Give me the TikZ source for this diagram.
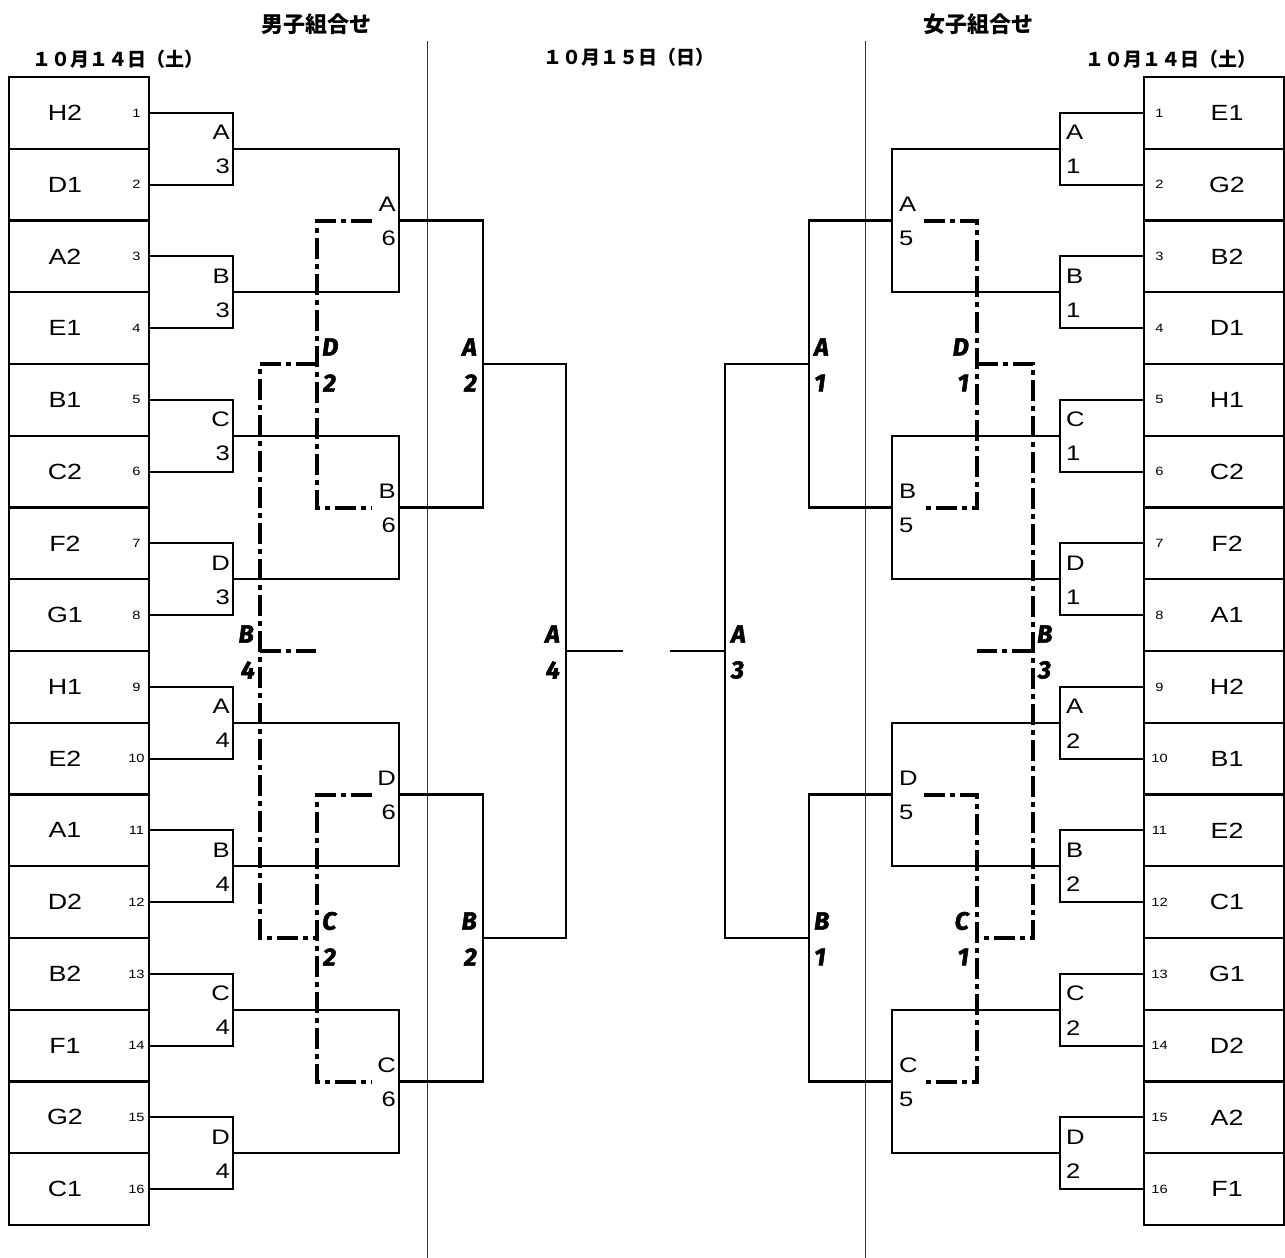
\documentclass[tikz,border=0pt]{standalone}
\usepackage{fontspec}
\setmainfont{Liberation Sans}[FakeStretch=1.22]
\newfontfamily\jpfont{Noto Sans CJK JP}
\newfontfamily\bifont{Fira Sans}[BoldItalicFeatures={FakeBold=2}]
\tikzset{
 teambox/.style={draw, line width=2.2pt, minimum width=140pt, minimum height=71.75pt, inner sep=0pt},
 tname/.style={font=\fontsize{22}{22}\selectfont, inner sep=0pt},
 seed/.style={font=\fontsize{12}{12}\selectfont, inner sep=0pt},
 rl/.style={font=\fontsize{21}{21}\selectfont, inner sep=0pt},
 bl/.style={font=\bifont\bfseries\itshape\fontsize{25}{25}\selectfont, inner sep=0pt},
 wire/.style={line width=2.2pt},
 dd/.style={line width=4pt, dash pattern=on 21pt off 5pt on 5pt off 5pt},
 sepline/.style={line width=1.1pt, black!80},
 hdr/.style={font=\jpfont\bfseries\fontsize{19}{19}\selectfont, inner sep=0pt},
 ttl/.style={font=\jpfont\bfseries\fontsize{22}{22}\selectfont, inner sep=0pt},
}
\begin{document}
\begin{tikzpicture}[x=1pt,y=-1pt]
\useasboundingbox (0,0) rectangle (1285,1258);
% headers
\node[ttl] (t1) at (316,24) {男子組合せ};
\node[ttl] (t2) at (978,24) {女子組合せ};
\node[hdr] (d1) at (118,59) {１０月１４日（土）};
\node[hdr] (d2) at (629,57) {１０月１５日（日）};
\node[hdr] (d3) at (1171,59) {１０月１４日（土）};
% separators
\coordinate (s1t) at (427.5,41); \coordinate (s1b) at (427.5,1258);
\coordinate (s2t) at (865.5,41); \coordinate (s2b) at (865.5,1258);
\draw[sepline] (s1t) -- (s1b);
\draw[sepline] (s2t) -- (s2b);
% teams
\foreach \n [count=\i] in {H2,D1,A2,E1,B1,C2,F2,G1,H1,E2,A1,D2,B2,F1,G2,C1} {
  \pgfmathsetmacro\yy{77+(\i-0.5)*71.75}
  \node[teambox] (m\i) at (79,\yy) {};
  \node[tname] (mn\i) at (65,\yy) {\n};
  \node[seed] (ms\i) at (136.5,\yy) {\i};
}
\foreach \n [count=\i] in {E1,G2,B2,D1,H1,C2,F2,A1,H2,B1,E2,C1,G1,D2,A2,F1} {
  \pgfmathsetmacro\yy{77+(\i-0.5)*71.75}
  \node[teambox] (w\i) at (1214,\yy) {};
  \node[tname] (wn\i) at (1227,\yy) {\n};
  \node[seed] (ws\i) at (1159.5,\yy) {\i};
}
% men round 1
\foreach \k/\L/\N in {1/A/3,2/B/3,3/C/3,4/D/3,5/A/4,6/B/4,7/C/4,8/D/4} {
  \pgfmathtruncatemacro\ia{2*\k-1}
  \pgfmathtruncatemacro\ib{2*\k}
  \pgfmathsetmacro\yy{77+(2*\k-1)*71.75}
  \coordinate (ma\k) at (233,\yy);
  \draw[wire] (m\ia.east) -| (ma\k) |- (m\ib.east);
  \node[rl,anchor=east] (mal\k) at ([shift={(-3,-16)}]ma\k) {\L};
  \node[rl,anchor=east] (man\k) at ([shift={(-3,18)}]ma\k) {\N};
}
% women round 1
\foreach \k/\L/\N in {1/A/1,2/B/1,3/C/1,4/D/1,5/A/2,6/B/2,7/C/2,8/D/2} {
  \pgfmathtruncatemacro\ia{2*\k-1}
  \pgfmathtruncatemacro\ib{2*\k}
  \pgfmathsetmacro\yy{77+(2*\k-1)*71.75}
  \coordinate (wa\k) at (1060,\yy);
  \draw[wire] (w\ia.west) -| (wa\k) |- (w\ib.west);
  \node[rl,anchor=west] (wal\k) at ([shift={(6,-16)}]wa\k) {\L};
  \node[rl,anchor=west] (wan\k) at ([shift={(6,18)}]wa\k) {\N};
}
% men round 2
\foreach \k/\L/\N in {1/A/6,2/B/6,3/D/6,4/C/6} {
  \pgfmathtruncatemacro\ia{2*\k-1}
  \pgfmathtruncatemacro\ib{2*\k}
  \pgfmathsetmacro\yy{77+(4*\k-2)*71.75}
  \coordinate (mb\k) at (399,\yy);
  \draw[wire] (ma\ia) -| (mb\k) |- (ma\ib);
  \node[rl,anchor=east] (mbl\k) at ([shift={(-3,-16)}]mb\k) {\L};
  \node[rl,anchor=east] (mbn\k) at ([shift={(-3,18)}]mb\k) {\N};
}
% women round 2
\foreach \k/\L/\N in {1/A/5,2/B/5,3/D/5,4/C/5} {
  \pgfmathtruncatemacro\ia{2*\k-1}
  \pgfmathtruncatemacro\ib{2*\k}
  \pgfmathsetmacro\yy{77+(4*\k-2)*71.75}
  \coordinate (wb\k) at (892,\yy);
  \draw[wire] (wa\ia) -| (wb\k) |- (wa\ib);
  \node[rl,anchor=west] (wbl\k) at ([shift={(7,-16)}]wb\k) {\L};
  \node[rl,anchor=west] (wbn\k) at ([shift={(7,18)}]wb\k) {\N};
}
% round 3
\coordinate (mc1) at (483,364); \coordinate (mc2) at (483,938);
\coordinate (wc1) at (809,364); \coordinate (wc2) at (809,938);
\draw[wire] (mb1) -| (mc1) |- (mb2);
\draw[wire] (mb3) -| (mc2) |- (mb4);
\draw[wire] (wb1) -| (wc1) |- (wb2);
\draw[wire] (wb3) -| (wc2) |- (wb4);
\node[bl,anchor=east] (mcl1) at ([shift={(-6,-17)}]mc1) {A};
\node[bl,anchor=east] (mcn1) at ([shift={(-6,19)}]mc1) {2};
\node[bl,anchor=east] (mcl2) at ([shift={(-6,-17)}]mc2) {B};
\node[bl,anchor=east] (mcn2) at ([shift={(-6,19)}]mc2) {2};
\node[bl,anchor=west] (wcl1) at ([shift={(5,-17)}]wc1) {A};
\node[bl,anchor=west] (wcn1) at ([shift={(5,19)}]wc1) {1};
\node[bl,anchor=west] (wcl2) at ([shift={(5,-17)}]wc2) {B};
\node[bl,anchor=west] (wcn2) at ([shift={(5,19)}]wc2) {1};
% finals
\coordinate (md) at (566,651); \coordinate (mend) at (623,651);
\coordinate (wd) at (725,651); \coordinate (wend) at (670,651);
\draw[wire] (mc1) -| (md) |- (mc2);
\draw[wire] (wc1) -| (wd) |- (wc2);
\draw[wire] (md) -- (mend);
\draw[wire] (wd) -- (wend);
\node[bl,anchor=east] (mdl) at ([shift={(-6,-17)}]md) {A};
\node[bl,anchor=east] (mdn) at ([shift={(-6,19)}]md) {4};
\node[bl,anchor=west] (wdl) at ([shift={(6,-17)}]wd) {A};
\node[bl,anchor=west] (wdn) at ([shift={(6,19)}]wd) {3};
% men consolation (dash-dot)
\coordinate (mxD) at (317,364); \coordinate (mxC) at (317,938);
\coordinate (mxB) at (260,651); \coordinate (mxE) at (316,651);
\draw[dd] ([xshift=-27pt]mb1) -| (mxD) |- ([xshift=-27pt]mb2);
\draw[dd] ([xshift=-27pt]mb3) -| (mxC) |- ([xshift=-27pt]mb4);
\draw[dd] (mxD) -| (mxB) |- (mxC);
\draw[dd] (mxB) -- (mxE);
\node[bl,anchor=west] (mxDl) at ([shift={(5,-17)}]mxD) {D};
\node[bl,anchor=west] (mxDn) at ([shift={(6,19)}]mxD) {2};
\node[bl,anchor=west] (mxCl) at ([shift={(5,-17)}]mxC) {C};
\node[bl,anchor=west] (mxCn) at ([shift={(6,19)}]mxC) {2};
\node[bl,anchor=east] (mxBl) at ([shift={(-6,-17)}]mxB) {B};
\node[bl,anchor=east] (mxBn) at ([shift={(-5,19)}]mxB) {4};
% women consolation (dash-dot)
\coordinate (wxD) at (977,364); \coordinate (wxC) at (977,938);
\coordinate (wxB) at (1033,651); \coordinate (wxE) at (977,651);
\draw[dd] ([xshift=32pt]wb1) -| (wxD) |- ([xshift=32pt]wb2);
\draw[dd] ([xshift=32pt]wb3) -| (wxC) |- ([xshift=32pt]wb4);
\draw[dd] (wxD) -| (wxB) |- (wxC);
\draw[dd] (wxB) -- (wxE);
\node[bl,anchor=east] (wxDl) at ([shift={(-8,-17)}]wxD) {D};
\node[bl,anchor=east] (wxDn) at ([shift={(-8,19)}]wxD) {1};
\node[bl,anchor=east] (wxCl) at ([shift={(-8,-17)}]wxC) {C};
\node[bl,anchor=east] (wxCn) at ([shift={(-8,19)}]wxC) {1};
\node[bl,anchor=west] (wxBl) at ([shift={(4,-17)}]wxB) {B};
\node[bl,anchor=west] (wxBn) at ([shift={(5,19)}]wxB) {3};
\end{tikzpicture}
\end{document}
